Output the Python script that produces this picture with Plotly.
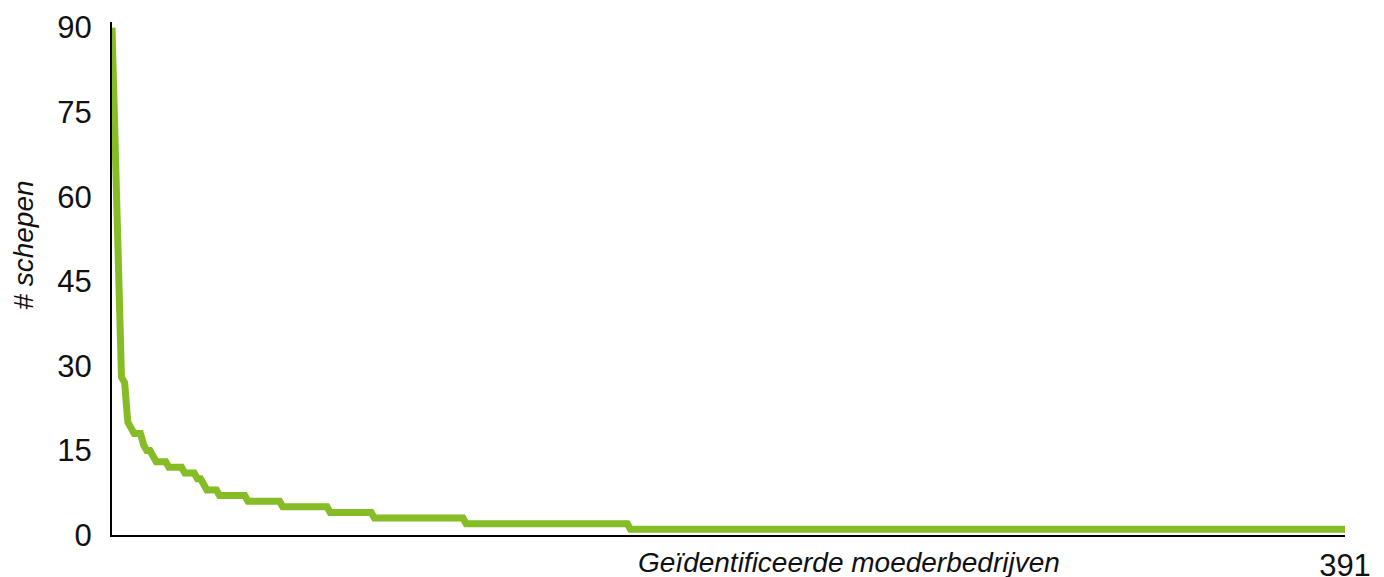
import plotly.graph_objects as go

# Number of ships per identified parent company, sorted descending (391 companies)
head_values = [90, 69, 49, 28, 27, 20, 19, 18, 18, 18,
               16, 15, 15, 14, 13, 13, 13, 13, 12, 12,
               12, 12, 12, 11, 11, 11, 11, 10, 10, 9]
tail_levels = [8, 7, 6, 5, 4, 3, 2, 1]
tail_counts = [4, 9, 11, 15, 14, 29, 52, 227]

ships = list(head_values)
for lvl, cnt in zip(tail_levels, tail_counts):
    ships += [lvl] * cnt
companies = list(range(1, len(ships) + 1))

y_ticks = [0, 15, 30, 45, 60, 75, 90]
x_tick_vals = [391]
x_tick_text = ["391"]

FONT = "Liberation Sans"
GREEN = "#86BC25"
TXT = "#111111"

# page body has an 8px margin; size the figure to fit inside the 1384x577 view
fig = go.Figure()
fig.add_trace(go.Scatter(
    x=companies, y=ships, mode="lines",
    line=dict(color=GREEN, width=7),
    cliponaxis=False, hoverinfo="skip", showlegend=False,
))

fig.update_layout(
    width=1376, height=569,
    margin=dict(l=104, r=39, t=14.37, b=42, pad=0, autoexpand=False),
    paper_bgcolor="white", plot_bgcolor="white",
    font=dict(family=FONT, size=31, color=TXT),
    showlegend=False,
)
fig.update_xaxes(
    range=[1, 391], showgrid=False, zeroline=False, automargin=False,
    showline=True, linecolor="black", linewidth=2,
    tickvals=x_tick_vals, ticktext=x_tick_text, ticks="",
    ticklabelstandoff=2, layer="below traces",
    tickfont=dict(family=FONT, size=31, color=TXT),
)
fig.update_yaxes(
    range=[0, 91], showgrid=False, zeroline=False, automargin=False,
    showline=True, linecolor="black", linewidth=2,
    tickvals=y_ticks, ticks="", ticklabelstandoff=12,
    layer="below traces",
    tickfont=dict(family=FONT, size=31, color=TXT),
)
fig.add_annotation(
    text="<i>Geïdentificeerde moederbedrijven</i>",
    xref="paper", yref="paper", x=0.5977, y=-0.0527,
    xanchor="center", yanchor="middle", showarrow=False,
    font=dict(family=FONT, size=28, color=TXT),
)
fig.add_annotation(
    text="<i># schepen</i>", textangle=-90,
    xref="paper", yref="paper", x=-0.0715, y=0.5657,
    xanchor="center", yanchor="middle", showarrow=False,
    font=dict(family=FONT, size=28, color=TXT),
)

fig.write_html("out.html")
